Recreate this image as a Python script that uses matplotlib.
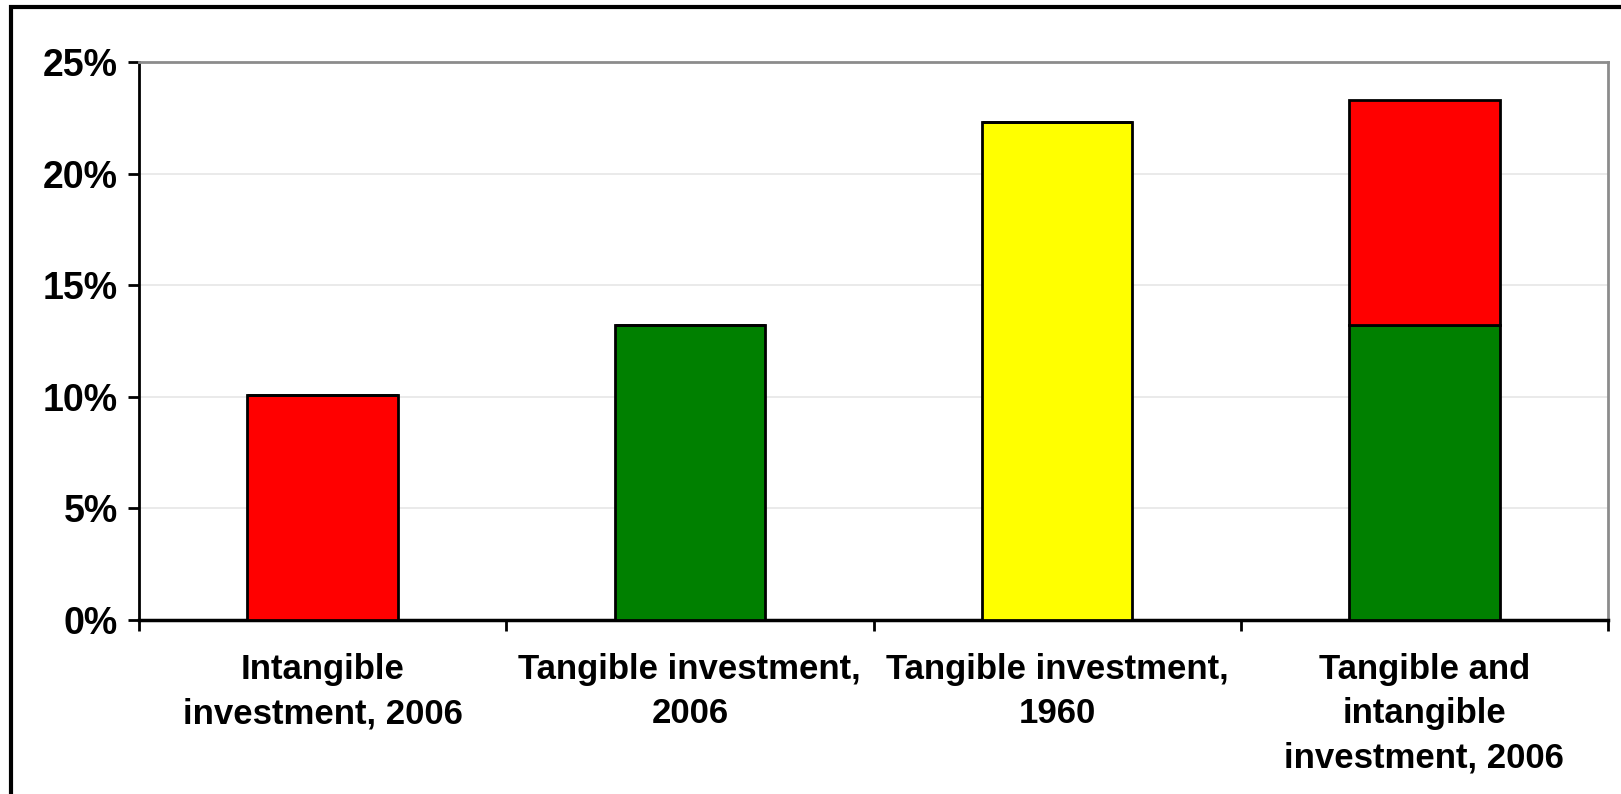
import matplotlib.pyplot as plt
from matplotlib.patches import Rectangle
from matplotlib.ticker import FuncFormatter

plt.rcParams['font.family'] = ['Liberation Sans', 'DejaVu Sans']
plt.rcParams['font.weight'] = 'bold'

categories = ["Intangible\ninvestment, 2006", "Tangible investment,\n2006",
              "Tangible investment,\n1960", "Tangible and\nintangible\ninvestment, 2006"]
base_values = [10.1, 13.2, 22.3, 13.2]
base_colors = ['#ff0000', '#008000', '#ffff00', '#008000']
top_values = [0, 0, 0, 10.1]
top_colors = ['#ff0000', '#ff0000', '#ff0000', '#ff0000']

fig = plt.figure(figsize=(16.21, 7.94), dpi=100)
ax = fig.add_axes([139/1621, 1 - 620/794, (1608-139)/1621, (620-62)/794])

x = list(range(len(categories)))
ax.bar(x, base_values, width=0.41, color=base_colors, edgecolor='black', linewidth=2, zorder=3)
ax.bar(x, top_values, width=0.41, bottom=base_values, color=top_colors,
       edgecolor='black', linewidth=2, zorder=3)

ax.set_xlim(-0.5, 3.5)
ax.set_ylim(0, 25)
ax.set_yticks([0, 5, 10, 15, 20, 25])
ax.yaxis.set_major_formatter(FuncFormatter(lambda v, p: f"{v:.0f}%"))
ax.grid(axis='y', color='#e6e6e6', linewidth=1.2, zorder=0)

ax.set_xticks([-0.5, 0.5, 1.5, 2.5, 3.5])
ax.set_xticklabels([])
ax.set_xticks(x, minor=True)
ax.set_xticklabels(categories, minor=True, fontsize=25, fontweight='bold', linespacing=1.42, va='top')
ax.tick_params(axis='x', which='minor', length=0, pad=24)
ax.tick_params(axis='x', which='major', length=8, width=2, direction='out')
ax.tick_params(axis='y', length=8, width=2, labelsize=27, pad=7)

ax.spines['left'].set_linewidth(2)
ax.spines['bottom'].set_linewidth(2.5)
ax.spines['top'].set_color('#8c8c8c')
ax.spines['top'].set_linewidth(2)
ax.spines['right'].set_color('#8c8c8c')
ax.spines['right'].set_linewidth(2)

# outer frame
fig.patches.append(Rectangle((11/1621, -0.1), 1.2, 1 - 7/794 + 0.1, transform=fig.transFigure,
                             fill=False, edgecolor='black', linewidth=3))

fig.savefig('out.png', dpi=100)
